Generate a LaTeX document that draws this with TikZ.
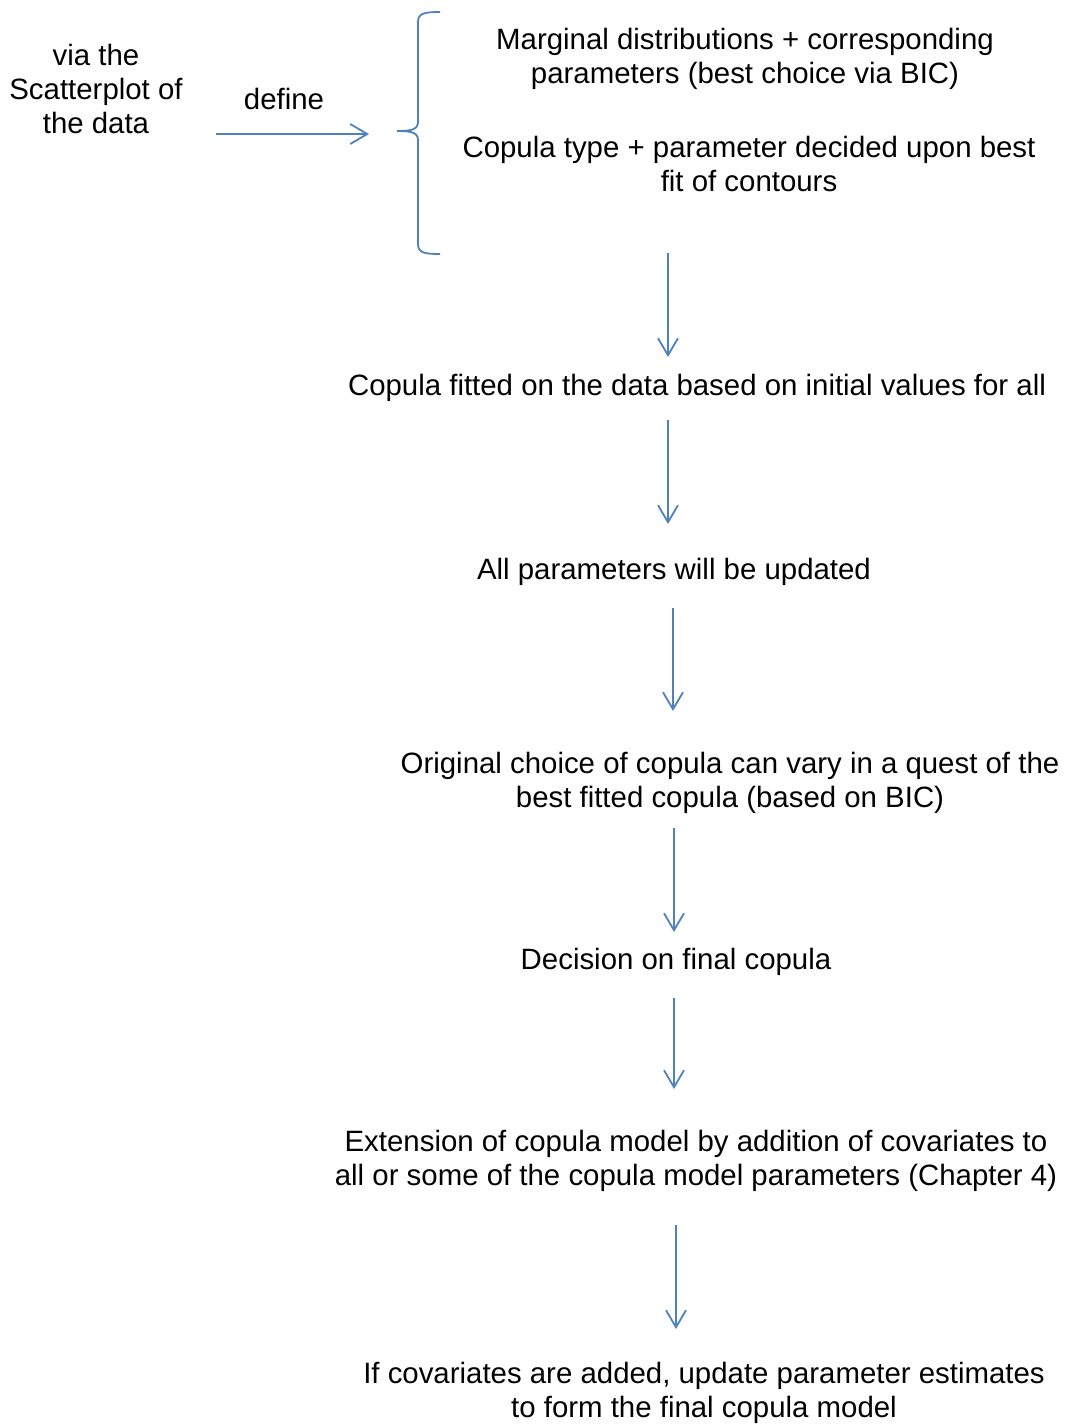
\documentclass[tikz,border=0pt]{standalone}
\usepackage{fontspec}
\setmainfont{Liberation Sans}
\usepackage{xcolor}
\usetikzlibrary{arrows.meta}
\definecolor{flowblue}{HTML}{4F81BD}

\begin{document}
\begin{tikzpicture}[x=1pt,y=-1pt,
    txt/.style={align=center,inner sep=0pt,font=\fontsize{29.4}{34}\selectfont},
    flow/.style={flowblue,line width=1.8pt,-{Straight Barb[length=17pt,width=20pt,line width=1.8pt]}}]
  \useasboundingbox (0,0) rectangle (1070,1425);
  % left part: source and verb
  \node[txt] (src) at (96,89) {via the\\Scatterplot of\\the data};
  \node[txt] (def) at (284,99) {define};
  \coordinate (d0) at (216,134);
  \coordinate (d1) at (369,134);
  \draw[flow] (d0) -- (d1);
  % brace
  \draw[flowblue,line width=1.8pt] (440,12) .. controls (425,12) and (418,13) .. (418,22)
    -- (418,122) .. controls (418,130) and (410,131) .. (397,131)
    .. controls (410,131) and (418,132) .. (418,140)
    -- (418,244) .. controls (418,253) and (425,254) .. (440,254);
  \node[txt] (marg) at (745,59) {Marginal distributions + corresponding\\parameters (best choice via BIC)};
  \node[txt] (cop) at (749,164) {Copula type + parameter decided upon best\\fit of contours};
  % steps down the page
  \node[txt] (fit) at (697,388) {Copula fitted on the data based on initial values for all};
  \node[txt] (upd) at (674,572) {All parameters will be updated};
  \node[txt] (orig) at (730,783) {Original choice of copula can vary in a quest of the\\best fitted copula (based on BIC)};
  \node[txt] (dec) at (676,962) {Decision on final copula};
  \node[txt] (ext) at (696,1161) {Extension of copula model by addition of covariates to\\all or some of the copula model parameters (Chapter 4)};
  \node[txt] (fin) at (704,1393) {If covariates are added, update parameter estimates\\to form the final copula model};
  % arrows between the steps
  \foreach \n/\x/\ya/\yb in {a/668/253/357, b/668/420/524, c/673/608/711, d/674/828/932, e/674/998/1089, f/676/1225/1329} {
    \coordinate (\n0) at (\x,\ya);
    \coordinate (\n1) at (\x,\yb);
    \draw[flow] (\n0) -- (\n1);
  }
\end{tikzpicture}
\end{document}
